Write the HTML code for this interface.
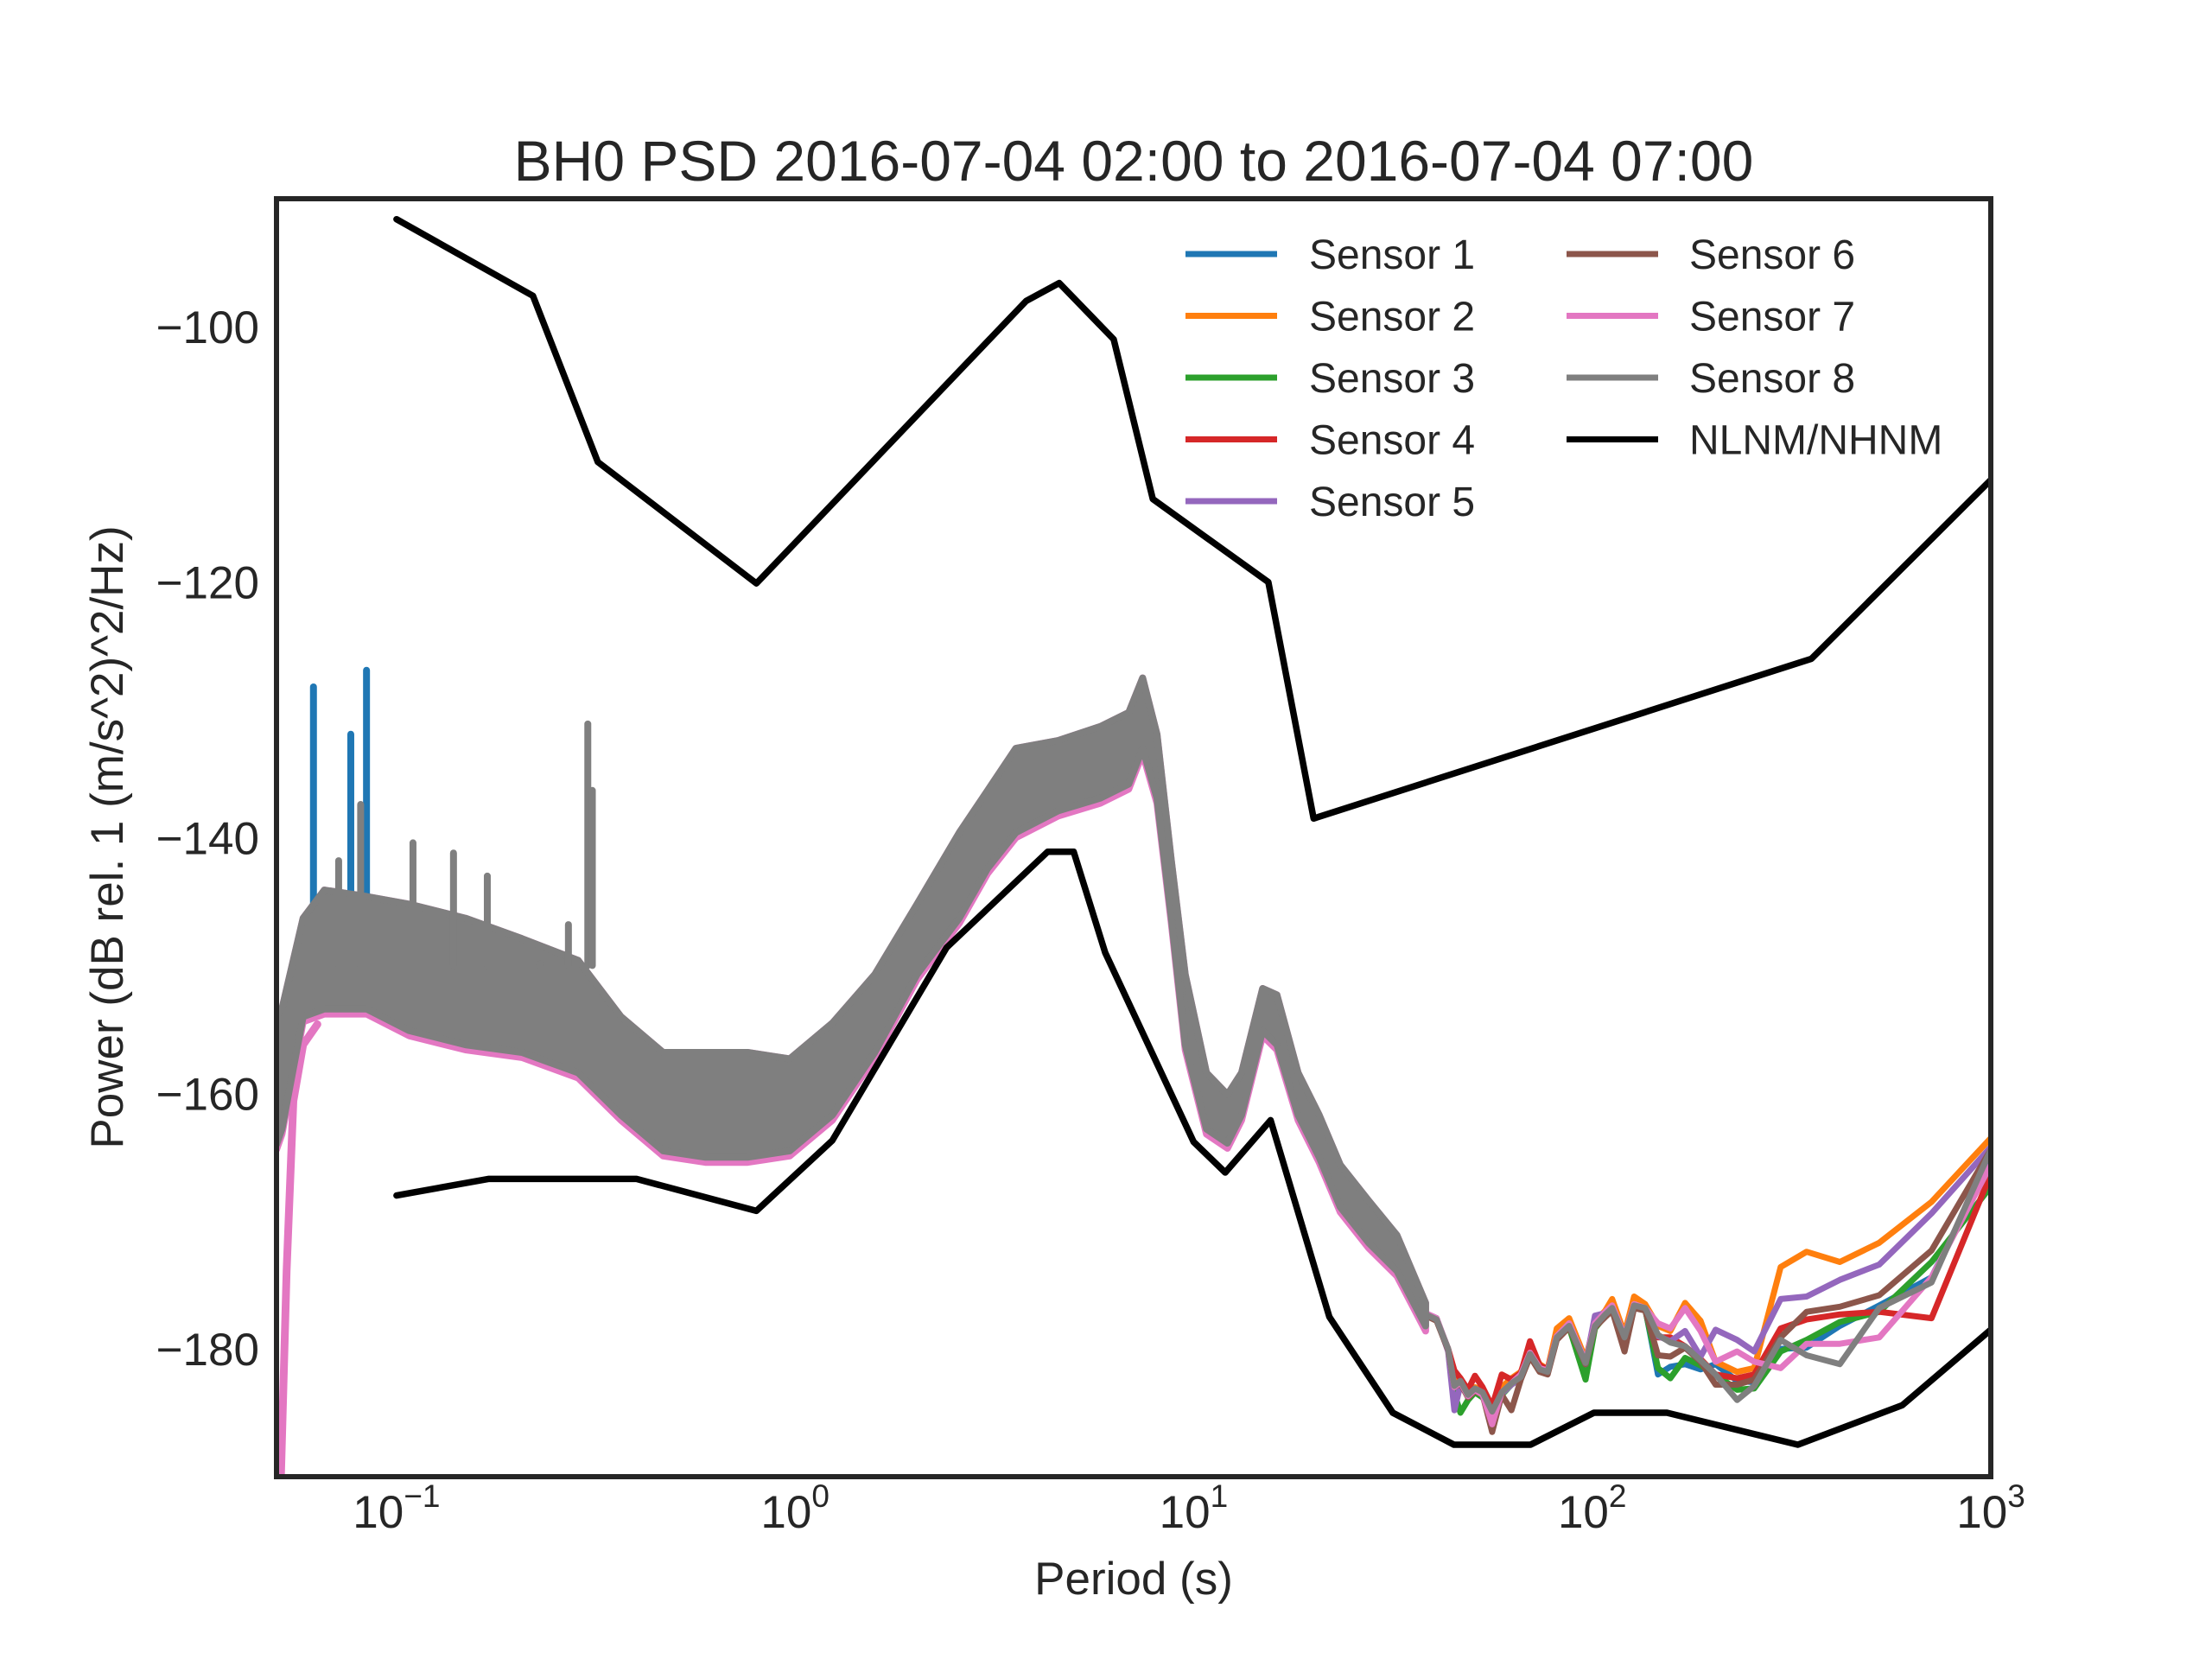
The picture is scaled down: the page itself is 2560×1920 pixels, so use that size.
<!DOCTYPE html>
<html><head><meta charset="utf-8"><style>
html,body{margin:0;padding:0;background:#fff;}
svg{display:block;font-family:"Liberation Sans",Arial,sans-serif;}
</style></head><body>
<svg id="chart" width="2560" height="1920" viewBox="0 0 2560 1920" xmlns="http://www.w3.org/2000/svg">
<rect x="0" y="0" width="2560" height="1920" fill="#fff"/>
<text x="1312" y="209" font-size="66" fill="#262626" text-anchor="middle">BH0 PSD 2016-07-04 02:00 to 2016-07-04 07:00</text>
<g id="plot"></g>
<g id="axes"></g>
<text x="1312" y="1845" font-size="53" fill="#262626" text-anchor="middle">Period (s)</text>
<text transform="translate(142,969) rotate(-90)" font-size="53" fill="#262626" text-anchor="middle">Power (dB rel. 1 (m/s^2)^2/Hz)</text>
<g id="legend"></g>
</svg>
<script>
// ---- data ----
const nlnmPeriods = [0.1,0.17,0.4,0.8,1.24,2.4,4.3,5,6,10,12,15.6,21.9,31.6,45,70,101,154,328,600,1000];
const nlnmDb = [-168,-166.7,-166.7,-169.2,-163.7,-148.6,-141.1,-141.1,-149,-163.8,-166.2,-162.1,-177.5,-185,-187.5,-187.5,-185,-185,-187.5,-184.4,-178.5];
const nhnmPeriods = [0.1,0.22,0.32,0.8,3.8,4.6,6.3,7.9,15.4,20,354.8,1000];
const nhnmDb = [-91.6,-97.6,-110.6,-120.1,-98.0,-96.6,-101,-113.5,-120,-138.5,-126,-112];

const bandPeriods = [0.05,0.0516,0.0583,0.0659,0.0841,0.1076,0.149,0.2065,0.2858,0.3656,0.4667,0.5957,0.760,0.970,1.241,1.585,2.023,2.582,3.041,3.581,4.571,5.834,6.871,7.447,8.091,8.790,9.528,10.77,12.16,13.19,14.90,16.18,18.28,20.65,23.33,27.48,32.36,38.2];
const bandUpper = [-154,-153.4,-146.3,-144.1,-144.6,-145.2,-146.3,-147.9,-149.6,-154.0,-156.8,-156.8,-156.8,-157.3,-154.5,-150.7,-145.2,-139.6,-136.3,-133.0,-132.4,-131.3,-130.2,-127.5,-131.9,-141.8,-150.7,-158.4,-160.1,-158.4,-151.8,-152.3,-158.4,-161.7,-165.6,-168.4,-171.1,-176.4];
const bandLower = [-164,-162.8,-154.0,-153.4,-153.4,-155.1,-156.2,-156.8,-158.4,-161.7,-164.5,-165.0,-165.0,-164.5,-161.7,-156.8,-150.7,-146.3,-142.4,-139.6,-137.9,-136.9,-135.8,-133.0,-136.9,-146.3,-156.2,-162.8,-163.9,-161.7,-155.1,-156.2,-161.7,-165.0,-168.9,-171.7,-173.9,-178.2];

const pinkEdgePeriods = [0.0513,0.053,0.0551,0.0583,0.0633];
const pinkEdgeDb = [-190,-173.9,-160.6,-156.2,-154.6];

const graySpikePeriods = [0.0716,0.0813,0.110,0.139,0.169,0.229,0.270,0.302,0.310];
const graySpikeTops = [-141.8,-137.4,-140.4,-141.2,-143.0,-149.9,-146.8,-131.1,-136.3];
const blueSpikePeriods = [0.0619,0.0768,0.0841];
const blueSpikeTops = [-128.2,-131.9,-126.9];
const spikeBase = -150;

const lpPeriods = [38.2,40.7,43.5,45.1,46.7,48.8,50.8,53.1,56.1,59.3,62.7,66.2,69.8,73.8,77.3,81.5,87.5,96.2,101.6,107.9,112.2,120.5,127.4,135.8,146.2,157,171,187,204,231,255,297,345,418,525,710,1000];
const sensor1 = [-177.3,-177.7,-180.0,-182.9,-182.5,-183.6,-183.1,-183.4,-184.9,-183.4,-182.7,-182.2,-180.4,-181.6,-181.8,-179.1,-178.2,-181.1,-178.2,-177.3,-176.8,-179.1,-176.6,-176.8,-182.0,-181.4,-181.2,-181.6,-181.2,-182.5,-182.6,-180.0,-179.9,-178.2,-176.6,-174.4,-165.1];
const sensor2 = [-177.3,-177.7,-180.0,-182.6,-182.3,-183.4,-183.0,-183.2,-184.6,-183.0,-182.3,-181.8,-180.0,-181.2,-181.6,-178.4,-177.6,-180.8,-177.9,-177.0,-176.1,-178.8,-175.9,-176.5,-178.2,-178.6,-176.4,-177.8,-181.0,-181.8,-181.5,-173.6,-172.4,-173.2,-171.7,-168.5,-163.5];
const sensor3 = [-177.3,-177.6,-180.1,-183.5,-185.0,-184.0,-183.4,-183.8,-185.1,-183.6,-182.8,-182.3,-180.6,-181.7,-181.9,-179.2,-178.3,-182.4,-178.4,-177.4,-176.9,-179.2,-176.7,-176.9,-181.5,-182.3,-180.7,-181.3,-182.0,-183.2,-183.1,-180.2,-179.3,-177.9,-177.1,-173.2,-167.3];
const sensor4 = [-177.3,-177.7,-180.0,-181.7,-182.3,-183.2,-182.1,-183.0,-184.5,-182.0,-182.4,-181.9,-179.4,-181.3,-181.6,-179.0,-178.1,-181.0,-178.1,-177.2,-176.9,-179.0,-176.7,-176.9,-179.1,-179.1,-179.8,-180.8,-182.0,-182.3,-182.0,-178.4,-177.7,-177.3,-177.1,-177.6,-166.3];
const sensor5 = [-177.2,-177.6,-180.2,-184.8,-182.8,-183.7,-183.2,-183.6,-185.0,-183.5,-182.8,-182.3,-180.5,-181.6,-181.9,-179.0,-178.2,-181.2,-177.4,-177.2,-176.8,-179.1,-176.6,-176.9,-179.0,-179.4,-178.6,-180.6,-178.5,-179.3,-180.2,-176.1,-175.9,-174.6,-173.4,-169.4,-164.2];
const sensor6 = [-177.4,-177.8,-180.1,-183.0,-182.7,-183.8,-183.3,-183.6,-186.5,-183.6,-184.8,-182.4,-180.6,-181.8,-182.0,-179.3,-178.3,-181.2,-178.3,-177.5,-177.0,-180.2,-176.8,-177.0,-180.5,-180.6,-179.9,-181.0,-182.8,-182.8,-182.4,-179.1,-177.1,-176.7,-175.8,-172.3,-164.4];
const sensor7 = [-177.2,-177.6,-180.0,-183.0,-182.6,-183.7,-183.2,-183.6,-185.9,-183.4,-182.7,-182.0,-180.3,-181.5,-181.7,-179.0,-178.0,-181.0,-178.0,-177.1,-176.6,-179.0,-176.5,-176.8,-178.0,-178.4,-176.8,-178.6,-181.0,-180.2,-181.0,-181.5,-179.6,-179.6,-179.1,-174.4,-165.6];
const sensor8 = [-177.3,-177.7,-180.0,-182.9,-182.5,-183.6,-183.1,-183.4,-184.9,-183.4,-182.7,-182.2,-180.4,-181.6,-181.8,-179.1,-178.2,-181.1,-178.2,-177.3,-176.8,-179.1,-176.6,-176.8,-178.9,-179.5,-179.8,-180.9,-182.0,-184.0,-182.9,-179.3,-180.5,-181.2,-176.8,-174.8,-164.4];

const sensorLabels = ["Sensor 1","Sensor 2","Sensor 3","Sensor 4","Sensor 5","Sensor 6","Sensor 7","Sensor 8"];
const yTicks = [-100,-120,-140,-160,-180];
const xTickExps = [-1,0,1,2,3];

// ---- axes functions ----
const L=320,R=2304,T=230,B=1709;
const xMin=Math.log10(0.05), xMax=3, yMin=-190, yMax=-90;
function xs(p){return L+(Math.log10(p)-xMin)/(xMax-xMin)*(R-L);}
function ys(v){return T+(yMax-v)/(yMax-yMin)*(B-T);}
const NS="http://www.w3.org/2000/svg";
const colors=["#1f77b4","#ff7f0e","#2ca02c","#d62728","#9467bd","#8c564b","#e377c2","#7f7f7f"];
const plot=document.getElementById('plot'), axes=document.getElementById('axes'), legend=document.getElementById('legend');

const defs=document.createElementNS(NS,'defs');
defs.innerHTML='<clipPath id="clip"><rect x="'+L+'" y="'+T+'" width="'+(R-L)+'" height="'+(B-T)+'"/></clipPath>';
document.getElementById('chart').insertBefore(defs,plot);
plot.setAttribute('clip-path','url(#clip)');

function pathFrom(ps,vs){return ps.map((p,i)=>(i?'L':'M')+xs(p).toFixed(1)+' '+ys(vs[i]).toFixed(1)).join(' ');}
function addPath(d,color,w,name,fill){
  const el=document.createElementNS(NS,'path');
  el.setAttribute('d',d);
  el.setAttribute('stroke',color);
  el.setAttribute('stroke-width',w);
  el.setAttribute('fill',fill||'none');
  el.setAttribute('stroke-linejoin','round');
  el.setAttribute('stroke-linecap','round');
  
  
  plot.appendChild(el);
  return el;
}

// pink lower edge and band (mostly hidden)
addPath(pathFrom(pinkEdgePeriods,pinkEdgeDb),colors[6],9,'sensor-7-low-edge');
const pinkLow=bandLower.map(v=>v-0.4);
addPath(pathFrom(bandPeriods,bandUpper)+' '+pathFrom(bandPeriods.slice().reverse(),pinkLow.slice().reverse()).replace('M','L')+' Z',colors[6],8,'sensor-7-band',colors[6]);
blueSpikePeriods.forEach((p,i)=>{
  addPath('M'+xs(p)+' '+ys(spikeBase)+' L'+xs(p)+' '+ys(blueSpikeTops[i]),colors[0],8,'sensor-1-spike');
});
const sensors=[sensor1,sensor2,sensor3,sensor4,sensor5,sensor6,sensor7,sensor8];
sensors.forEach((s,i)=>{
  addPath(pathFrom(lpPeriods,s),colors[i],7,'sensor-'+(i+1)+'-line');
});
addPath(pathFrom(bandPeriods,bandUpper)+' '+pathFrom(bandPeriods.slice().reverse(),bandLower.slice().reverse()).replace('M','L')+' Z',colors[7],8,'sensor-8-band',colors[7]);
graySpikePeriods.forEach((p,i)=>{
  addPath('M'+xs(p)+' '+ys(spikeBase)+' L'+xs(p)+' '+ys(graySpikeTops[i]),colors[7],8,'sensor-8-spike');
});
addPath(pathFrom(nlnmPeriods,nlnmDb),'#000',7.5,'nlnm-line');
addPath(pathFrom(nhnmPeriods,nhnmDb),'#000',7.5,'nhnm-line');

const fr=document.createElementNS(NS,'rect');
fr.setAttribute('x',L);fr.setAttribute('y',T);fr.setAttribute('width',R-L);fr.setAttribute('height',B-T);
fr.setAttribute('fill','none');fr.setAttribute('stroke','#262626');fr.setAttribute('stroke-width','6');


axes.appendChild(fr);

yTicks.forEach(v=>{
  const t=document.createElementNS(NS,'text');
  t.setAttribute('x',300);t.setAttribute('y',ys(v)+19);
  t.setAttribute('text-anchor','end');t.setAttribute('font-size','53');t.setAttribute('fill','#262626');
  t.textContent='\u2212'+Math.abs(v);
  
  
  axes.appendChild(t);
});
xTickExps.forEach(e=>{
  const t=document.createElementNS(NS,'text');
  t.setAttribute('x',xs(Math.pow(10,e)));t.setAttribute('y',1768);
  t.setAttribute('text-anchor','middle');t.setAttribute('font-size','53');t.setAttribute('fill','#262626');
  const es=e<0?'\u2212'+Math.abs(e):String(e);
  t.innerHTML='10<tspan font-size="37" dy="-24">'+es+'</tspan>';
  
  
  axes.appendChild(t);
});

const legLabels=sensorLabels.concat(["NLNM/NHNM"]);
const legColors=colors.concat(["#000"]);
legLabels.forEach((lab,i)=>{
  const col=i<5?0:1, row=i<5?i:i-5;
  const lx=col?1813:1372, tx=col?1955:1515, y=294+row*71.5;
  const g=document.createElementNS(NS,'g');
  
  
  const ln=document.createElementNS(NS,'line');
  ln.setAttribute('x1',lx);ln.setAttribute('x2',lx+106);ln.setAttribute('y1',y);ln.setAttribute('y2',y);
  ln.setAttribute('stroke',legColors[i]);ln.setAttribute('stroke-width','7');
  
  
  const t=document.createElementNS(NS,'text');
  t.setAttribute('x',tx);t.setAttribute('y',y+17);t.setAttribute('font-size','48');t.setAttribute('fill','#262626');
  t.textContent=lab;
  
  
  g.appendChild(ln);g.appendChild(t);legend.appendChild(g);
});
</script>
</body></html>
